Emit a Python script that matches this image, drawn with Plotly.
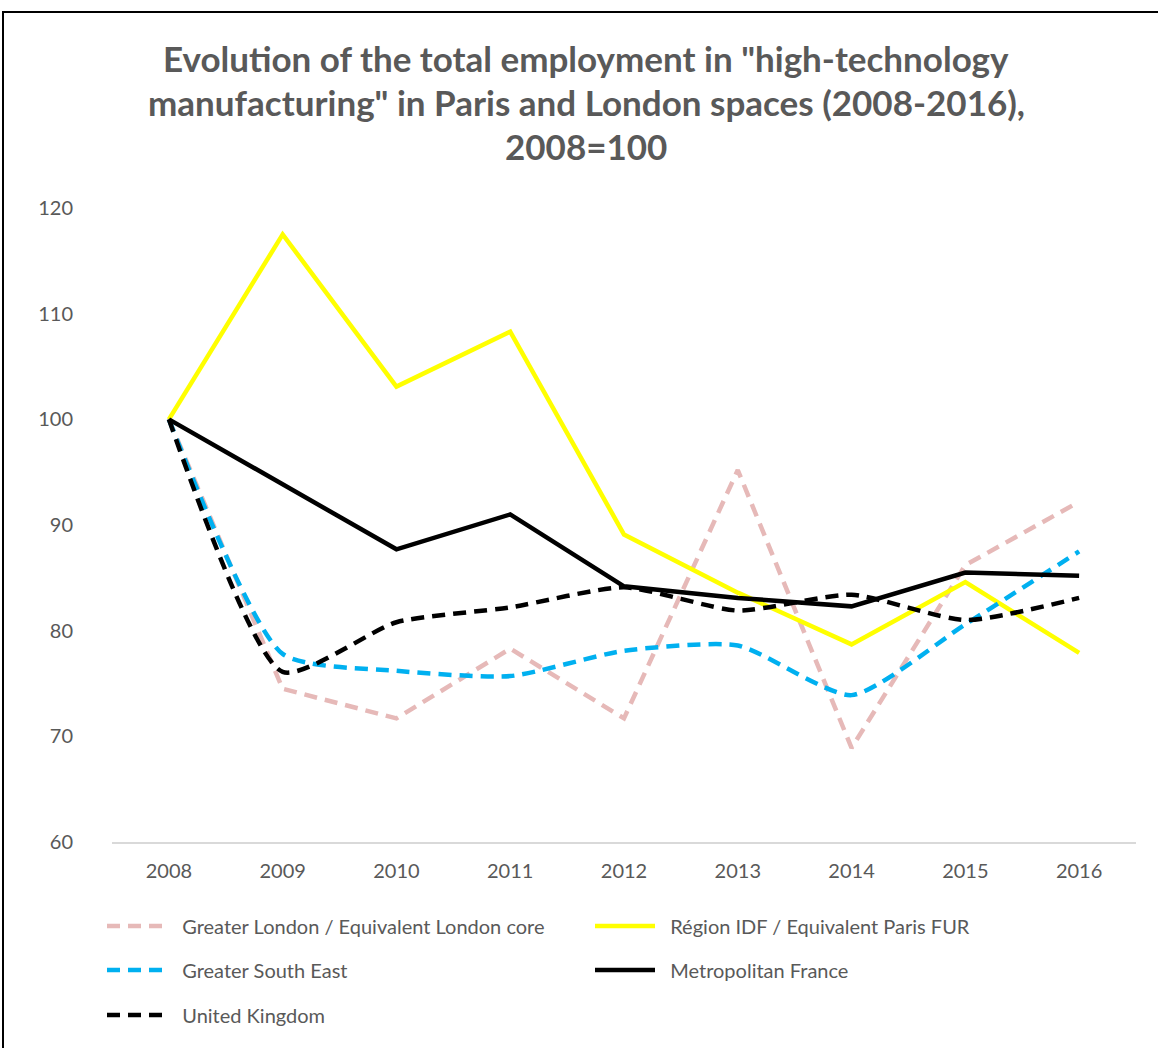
import plotly.graph_objects as go

# data (2008 = 100)
years = ["2008", "2009", "2010", "2011", "2012", "2013", "2014", "2015", "2016"]
greater_london = [100, 74.5, 71.7, 78.3, 71.7, 95.2, 68.9, 86.2, 92.2]
region_idf = [100, 117.5, 103.1, 108.3, 89.1, 83.6, 78.7, 84.6, 77.9]
greater_south_east = [100, 77.8, 76.2, 75.7, 78.1, 78.6, 73.9, 80.6, 87.5]
metropolitan_france = [100, 93.9, 87.7, 91.0, 84.2, 83.1, 82.3, 85.5, 85.2]
united_kingdom = [100, 76.1, 80.8, 82.2, 84.1, 81.9, 83.4, 81.0, 83.1]

title_lines = [
    'Evolution of the total employment in "high-technology',
    'manufacturing" in Paris and London spaces (2008-2016),',
    '2008=100',
]

FONT = "Lato"
GREY = "#595959"
W, H = 1158, 1048
L, R, T, B = 112, 22, 208, 206
PW, PH = W - L - R, H - T - B
PAD = "\u00a0\u00a0"  # small gap between legend symbol and text


def px_x(x):
    return (x - L) / PW


def px_y(y):
    return (H - B - y) / PH


series = [
    ("Greater London / Equivalent London core", greater_london, "#E6B9B8", "13px,8px", "linear", "legend"),
    ("Région IDF / Equivalent Paris FUR", region_idf, "#FFFF00", "solid", "linear", "legend"),
    ("Greater South East", greater_south_east, "#00B0F0", "13px,8px", "spline", "legend2"),
    ("Metropolitan France", metropolitan_france, "#000000", "solid", "linear", "legend2"),
    ("United Kingdom", united_kingdom, "#000000", "13px,8px", "spline", "legend3"),
]

fig = go.Figure()
for name, vals, color, dash, shape, leg in series:
    fig.add_trace(go.Scatter(
        x=years, y=vals, name=PAD + name, mode="lines",
        line=dict(color=color, width=4.5, dash=dash, shape=shape, smoothing=0.6),
        legend=leg,
    ))

legend_common = dict(
    orientation="h", xanchor="left", yanchor="middle", x=px_x(102),
    font=dict(family=FONT, size=20, color=GREY),
    itemwidth=60, entrywidth=413, bgcolor="rgba(0,0,0,0)",
)

for i, line in enumerate(title_lines):
    fig.add_annotation(
        text="<b>" + line + "</b>", xref="paper", yref="paper",
        x=px_x(W / 2 + 7), y=px_y(58 + i * 44), showarrow=False,
        xanchor="center", yanchor="middle",
        font=dict(family=FONT, size=35, color=GREY),
    )

# chart frame (right and bottom edges fall outside the picture)
fig.add_shape(type="rect", xref="paper", yref="paper",
              x0=px_x(3), x1=px_x(1175), y0=px_y(1065), y1=px_y(12),
              line=dict(color="#000000", width=2))

fig.update_layout(
    width=W, height=H,
    margin=dict(l=L, r=R, t=T, b=B),
    plot_bgcolor="white", paper_bgcolor="white",
    font=dict(family=FONT, size=20, color=GREY),
    legend=dict(legend_common, y=px_y(926)),
    legend2=dict(legend_common, y=px_y(970)),
    legend3=dict(legend_common, y=px_y(1015)),
    xaxis=dict(
        type="category", range=[-0.5, 8.5], showgrid=False,
        showline=True, linecolor="#D9D9D9", linewidth=2,
        ticks="", tickfont=dict(family=FONT, size=20, color=GREY),
        ticklabelstandoff=10,
    ),
    yaxis=dict(
        range=[60, 120], dtick=10, showgrid=False, zeroline=False,
        showline=False, ticks="", tickfont=dict(family=FONT, size=20, color=GREY),
        ticklabelstandoff=38,
    ),
)

fig.write_html("out.html", config={"displayModeBar": False},
               post_script="document.body.style.margin='0px';")
